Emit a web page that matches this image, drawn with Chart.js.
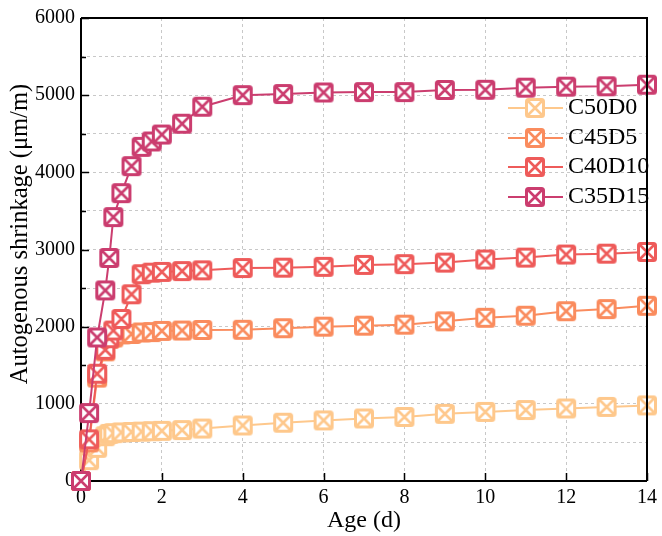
<!DOCTYPE html>
<html>
<head>
<meta charset="utf-8">
<script src="https://cdn.jsdelivr.net/npm/chart.js@4.4.1/dist/chart.umd.min.js"></script>
<style>
html,body{margin:0;padding:0;background:#fff;}
#wrap{width:662px;height:536px;position:relative;}
</style>
</head>
<body>
<div id="wrap"><canvas id="c"></canvas></div>
<script>
const ages = [0,0.2,0.4,0.6,0.7,0.8,1,1.25,1.5,1.75,2,2.5,3,4,5,6,7,8,9,10,11,12,13,14];
const c50d0 = [0,270,430,580,610,620,630,635,640,645,650,660,680,720,755,785,810,830,870,895,920,940,960,980];
const c45d5 = [0,500,1340,1680,1840,1860,1900,1905,1925,1930,1945,1950,1957,1960,1980,2000,2013,2026,2069,2115,2142,2200,2228,2271];
const c40d10 = [0,540,1390,1700,1850,1950,2100,2420,2680,2700,2710,2720,2730,2760,2765,2775,2800,2810,2830,2870,2895,2935,2946,2968];
const c35d15 = [0,880,1860,2470,2890,3420,3730,4080,4330,4400,4490,4630,4850,5000,5015,5035,5040,5040,5067,5070,5097,5110,5115,5135];
const seriesNames = ['C50D0','C45D5','C40D10','C35D15'];
const seriesColors = ['#FEC88C','#FA8C5E','#EE5B5A','#CB3D6F'];
const seriesValues = [c50d0,c45d5,c40d10,c35d15];
const xTicks = [0,2,4,6,8,10,12,14];
const yTitle = 'Autogenous shrinkage (μm/m)';
const xTitle = 'Age (d)';

const FONT = "'Liberation Serif','Times New Roman',serif";

function makeMarker(color){
  const s = 22;
  const cv = document.createElement('canvas');
  cv.width = s; cv.height = s;
  const g = cv.getContext('2d');
  const a = 2.5, b = s - 2.5;
  g.lineWidth = 3;
  g.strokeStyle = color;
  g.fillStyle = '#fff';
  g.beginPath();
  if (g.roundRect) g.roundRect(a, a, b - a, b - a, 2); else g.rect(a, a, b - a, b - a);
  g.fill();
  g.stroke();
  g.lineWidth = 2.6;
  g.beginPath();
  g.moveTo(a + 1, a + 1); g.lineTo(b - 1, b - 1);
  g.moveTo(b - 1, a + 1); g.lineTo(a + 1, b - 1);
  g.stroke();
  return cv;
}
const markers = seriesColors.map(makeMarker);

const datasets = seriesNames.map((n, i) => ({
  label: n,
  data: ages.map((x, j) => ({x: x, y: seriesValues[i][j]})),
  borderColor: seriesColors[i],
  backgroundColor: seriesColors[i],
  borderWidth: 2,
  pointStyle: markers[i],
  pointRadius: 10,
  pointHoverRadius: 10,
  tension: 0,
  clip: false,
  order: 3 - i
}));

const framePlugin = {
  id: 'frame',
  beforeDatasetsDraw(chart){
    const {ctx, chartArea: a, scales} = chart;
    ctx.save();
    ctx.strokeStyle = '#000';
    ctx.lineWidth = 2;
    ctx.beginPath();
    ctx.moveTo(a.left, a.top); ctx.lineTo(a.left, a.bottom); ctx.lineTo(a.right, a.bottom);
    ctx.stroke();
    ctx.lineWidth = 1.5;
    ctx.beginPath();
    for (let v = 0; v <= 6000; v += 500){
      const y = Math.round(scales.y.getPixelForValue(v)) + 0.5;
      const len = v % 1000 === 0 ? 8 : 5;
      ctx.moveTo(a.left, y); ctx.lineTo(a.left + len, y);
    }
    xTicks.forEach(v => {
      const x = Math.round(scales.x.getPixelForValue(v)) + 0.5;
      ctx.moveTo(x, a.bottom); ctx.lineTo(x, a.bottom - 8);
    });
    ctx.stroke();
    // y axis title
    ctx.fillStyle = '#000';
    ctx.font = '24.5px ' + FONT;
    ctx.textAlign = 'center';
    ctx.textBaseline = 'middle';
    ctx.translate(21, 234);
    ctx.rotate(-Math.PI / 2);
    ctx.fillText(yTitle, 0, 0);
    ctx.restore();
  },
  afterDatasetsDraw(chart){
    const {ctx, chartArea: a} = chart;
    ctx.save();
    ctx.strokeStyle = '#000';
    ctx.lineWidth = 2;
    ctx.beginPath();
    ctx.moveTo(a.left, a.top); ctx.lineTo(a.right, a.top); ctx.lineTo(a.right, a.bottom);
    ctx.stroke();
    ctx.restore();
  }
};

const legendPlugin = {
  id: 'customLegend',
  afterDraw(chart){
    const ctx = chart.ctx;
    ctx.save();
    const rows = [108, 138, 167, 197];
    seriesNames.forEach((n, i) => {
      const y = rows[i];
      ctx.strokeStyle = seriesColors[i];
      ctx.lineWidth = 2;
      ctx.beginPath();
      ctx.moveTo(508, y); ctx.lineTo(563, y);
      ctx.stroke();
      ctx.drawImage(markers[i], 535 - 11, y - 11);
      ctx.fillStyle = '#000';
      ctx.font = '24px ' + FONT;
      ctx.textBaseline = 'middle';
      ctx.textAlign = 'left';
      ctx.fillText(n, 568, y);
    });
    ctx.restore();
  }
};

new Chart(document.getElementById('c'), {
  type: 'line',
  data: {datasets},
  options: {
    responsive: true,
    maintainAspectRatio: false,
    animation: false,
    events: [],
    layout: {padding: {top: 16, right: 11, left: 0, bottom: 0}},
    plugins: {legend: {display: false}, tooltip: {enabled: false}},
    scales: {
      x: {
        type: 'linear', min: 0, max: 14,
        afterBuildTicks(s){ s.ticks = xTicks.map(v => ({value: v})); },
        afterFit(s){ s.height = 55; },
        ticks: {font: {family: FONT, size: 20}, color: '#000', padding: 5, maxRotation: 0,
          callback: v => String(v)},
        grid: {color: '#c8c8c8', lineWidth: 1, drawTicks: false},
        border: {display: false, dash: [3, 3]},
        title: {display: true, text: xTitle, font: {family: FONT, size: 24}, color: '#000', padding: {top: 0, bottom: 1}}
      },
      y: {
        type: 'linear', min: 0, max: 6000,
        afterBuildTicks(s){ const t = []; for (let v = 0; v <= 6000; v += 500) t.push({value: v}); s.ticks = t; },
        afterFit(s){ s.width = 81; },
        ticks: {font: {family: FONT, size: 20}, color: '#000', padding: 6,
          callback: v => (v % 1000 === 0 ? String(v) : '')},
        grid: {color: '#c8c8c8', lineWidth: 1, drawTicks: false},
        border: {display: false, dash: [3, 3]}
      }
    }
  },
  plugins: [framePlugin, legendPlugin]
});
</script>
</body>
</html>
